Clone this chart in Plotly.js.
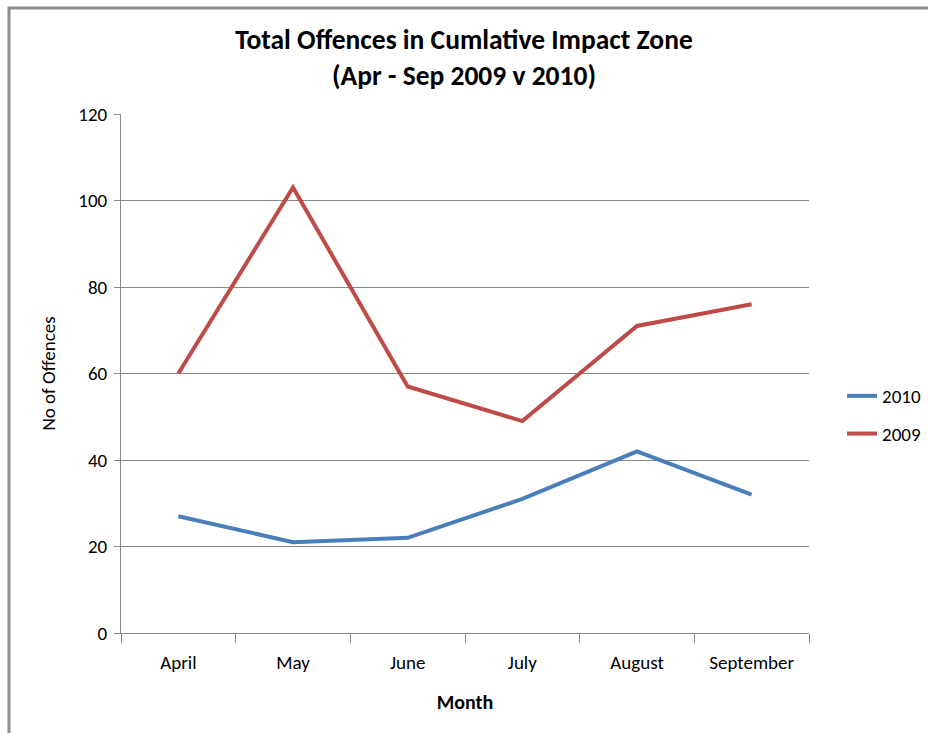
<!DOCTYPE html>
<html>
<head>
<meta charset="utf-8">
<script src="https://cdn.plot.ly/plotly-3.0.1.min.js"></script>
<style>html,body{margin:0;padding:0;background:#fff;}#chart{width:928px;height:733px;}</style>
</head>
<body>
<div id="chart"></div>
<script>
const months = ["April", "May", "June", "July", "August", "September"];
const values2010 = [27, 21, 22, 31, 42, 32];
const values2009 = [60, 103, 57, 49, 71, 76];
const yTicks = [0, 20, 40, 60, 80, 100, 120];

const FONT = "Carlito, Calibri, 'Liberation Sans Narrow', 'Open Sans', sans-serif";

const traces = [
  {x: months, y: values2010, name: "2010", type: "scatter", mode: "lines", legendgroup: "a",
   line: {color: "#4a7ebb", width: 4}},
  {x: months, y: values2009, name: "2009", type: "scatter", mode: "lines", legendgroup: "b",
   line: {color: "#be4b48", width: 4}}
];

const layout = {
  width: 928, height: 733,
  margin: {l: 121, r: 119, t: 114, b: 100, autoexpand: false},
  paper_bgcolor: "#ffffff", plot_bgcolor: "#ffffff",
  font: {family: FONT, size: 19, color: "#000"},
  title: {text: "<b>Total Offences in Cumlative Impact Zone<br>(Apr - Sep 2009 v 2010)</b>",
          x: 0.5, xanchor: "center", y: 0.933, yanchor: "middle",
          font: {family: FONT, size: 27.5, color: "#000"}},
  xaxis: {
    type: "category", range: [-0.5, 5.5],
    showgrid: false, showline: true, linecolor: "#888", linewidth: 1,
    ticks: "outside", ticklen: 9, tickcolor: "#888", tickson: "boundaries",
    ticklabelstandoff: 12,
    tickfont: {family: FONT, size: 19, color: "#000"},
    title: {text: "<b>Month</b>", font: {family: FONT, size: 20, color: "#000"}, standoff: 22},
    fixedrange: true, zeroline: false, automargin: false
  },
  yaxis: {
    range: [0, 120], tickvals: yTicks, ticktext: yTicks.map(String),
    showgrid: true, gridcolor: "#888", gridwidth: 1,
    showline: true, linecolor: "#888", linewidth: 1,
    ticks: "outside", ticklen: 6, tickcolor: "#888",
    ticklabelstandoff: 3,
    tickfont: {family: FONT, size: 19, color: "#000"},
    title: {text: "No of Offences", font: {family: FONT, size: 19, color: "#000"}, standoff: 17},
    zeroline: false, fixedrange: true, automargin: false
  },
  legend: {x: (842 - 121) / 688, y: (633 - 415) / 519, xanchor: "left", yanchor: "middle",
           font: {family: FONT, size: 19, color: "#000"},
           tracegroupgap: 10, bgcolor: "rgba(0,0,0,0)"},
  shapes: [
    {type: "rect", xref: "paper", yref: "paper",
     x0: (9 - 121) / 688, x1: (960 - 121) / 688,
     y0: (633 - 760) / 519, y1: (633 - 8) / 519,
     line: {color: "#8c8c8c", width: 3}, fillcolor: "rgba(0,0,0,0)", layer: "below"}
  ],
  showlegend: true
};

Plotly.newPlot("chart", traces, layout, {displayModeBar: false, staticPlot: true});
</script>
</body>
</html>
